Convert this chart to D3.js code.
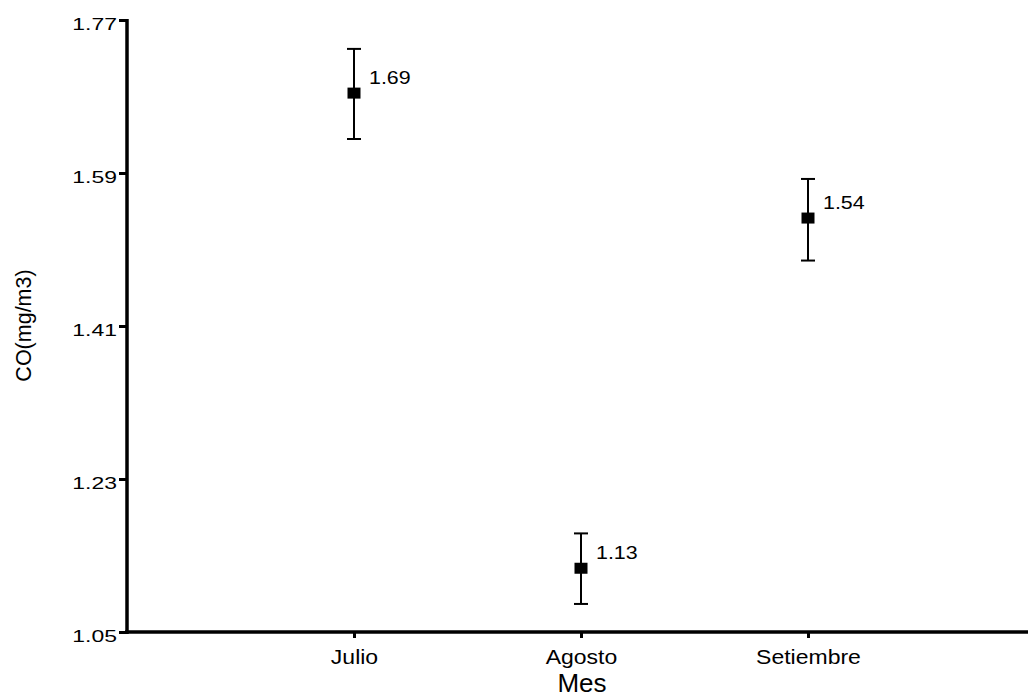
<!DOCTYPE html>
<html>
<head>
<meta charset="utf-8">
<script src="https://cdn.jsdelivr.net/npm/d3@7"></script>
<style>
  html, body { margin: 0; padding: 0; background: #fff; }
  svg { display: block; font-family: "Liberation Sans", Arial, sans-serif; }
</style>
</head>
<body>
<svg id="chart" width="1028" height="699"></svg>
<script>
const categories = ["Julio", "Agosto", "Setiembre"];
const means = [1.684, 1.125, 1.537];
const upper = [1.736, 1.166, 1.583];
const lower = [1.630, 1.083, 1.487];
const valueLabels = ["1.69", "1.13", "1.54"];
const yTicks = [1.05, 1.23, 1.41, 1.59, 1.77];

const svg = d3.select("#chart");
const x = d3.scaleLinear().domain([0, 4]).range([127, 1035]);
const y = d3.scaleLinear().domain([1.05, 1.77]).range([632, 20]);
const FONT = "Liberation Sans, Arial, sans-serif";

// Y axis
const yAxis = svg.append("g").attr("transform", "translate(127,0)")
  .call(d3.axisLeft(y).tickValues(yTicks).tickFormat(d3.format(".2f")).tickSize(8).tickSizeOuter(0));
yAxis.select(".domain").attr("stroke", "#000").attr("stroke-width", 3.5)
  .attr("d", `M0,${y(1.77)-1}V${y(1.05)+2}`);
yAxis.selectAll(".tick line").attr("stroke-width", 3);
yAxis.selectAll(".tick text")
  .attr("font-size", 17).attr("font-family", FONT).attr("fill", "#000")
  .attr("x", 0).attr("dy", null).attr("y", 9)
  .attr("transform", "translate(-10,0) scale(1.35,1)");

// X axis
const xAxis = svg.append("g").attr("transform", "translate(0,632)")
  .call(d3.axisBottom(x).tickValues([1, 2, 3]).tickFormat(i => categories[i - 1]).tickSize(6).tickSizeOuter(0));
xAxis.select(".domain").attr("stroke", "#000").attr("stroke-width", 3.5)
  .attr("d", `M${x(0)-2},0H1028`);
xAxis.selectAll(".tick line").attr("stroke-width", 3);
xAxis.selectAll(".tick text")
  .attr("font-size", 20).attr("font-family", FONT).attr("fill", "#000")
  .attr("dy", null).attr("y", 32)
  .attr("transform", "scale(1.15,1)");

// Axis titles
svg.append("text").attr("x", 582).attr("y", 692).attr("text-anchor", "middle")
  .attr("font-size", 26).text("Mes");
svg.append("text").attr("transform", "translate(30.5,325.5) rotate(-90)").attr("text-anchor", "middle")
  .attr("font-size", 21.5).text("CO(mg/m3)");

// Error bars and points
const data = categories.map((c, i) => ({ i: i + 1, m: means[i], hi: upper[i], lo: lower[i], lab: valueLabels[i] }));
const g = svg.append("g");
data.forEach(d => {
  const cx = x(d.i);
  g.append("line").attr("x1", cx).attr("x2", cx).attr("y1", y(d.hi)).attr("y2", y(d.lo))
    .attr("stroke", "#000").attr("stroke-width", 2);
  [d.hi, d.lo].forEach(v => {
    g.append("line").attr("x1", cx - 7).attr("x2", cx + 7).attr("y1", y(v)).attr("y2", y(v))
      .attr("stroke", "#000").attr("stroke-width", 2);
  });
  g.append("rect").attr("x", cx - 6.5).attr("y", y(d.m) - 5.5).attr("width", 13).attr("height", 11)
    .attr("fill", "#000");
  g.append("text").attr("x", 0).attr("y", 0).attr("font-size", 18)
    .attr("transform", `translate(${cx + 15},${y(d.m) - 9}) scale(1.19,1)`)
    .attr("fill", "#000").text(d.lab);
});
</script>
</body>
</html>
